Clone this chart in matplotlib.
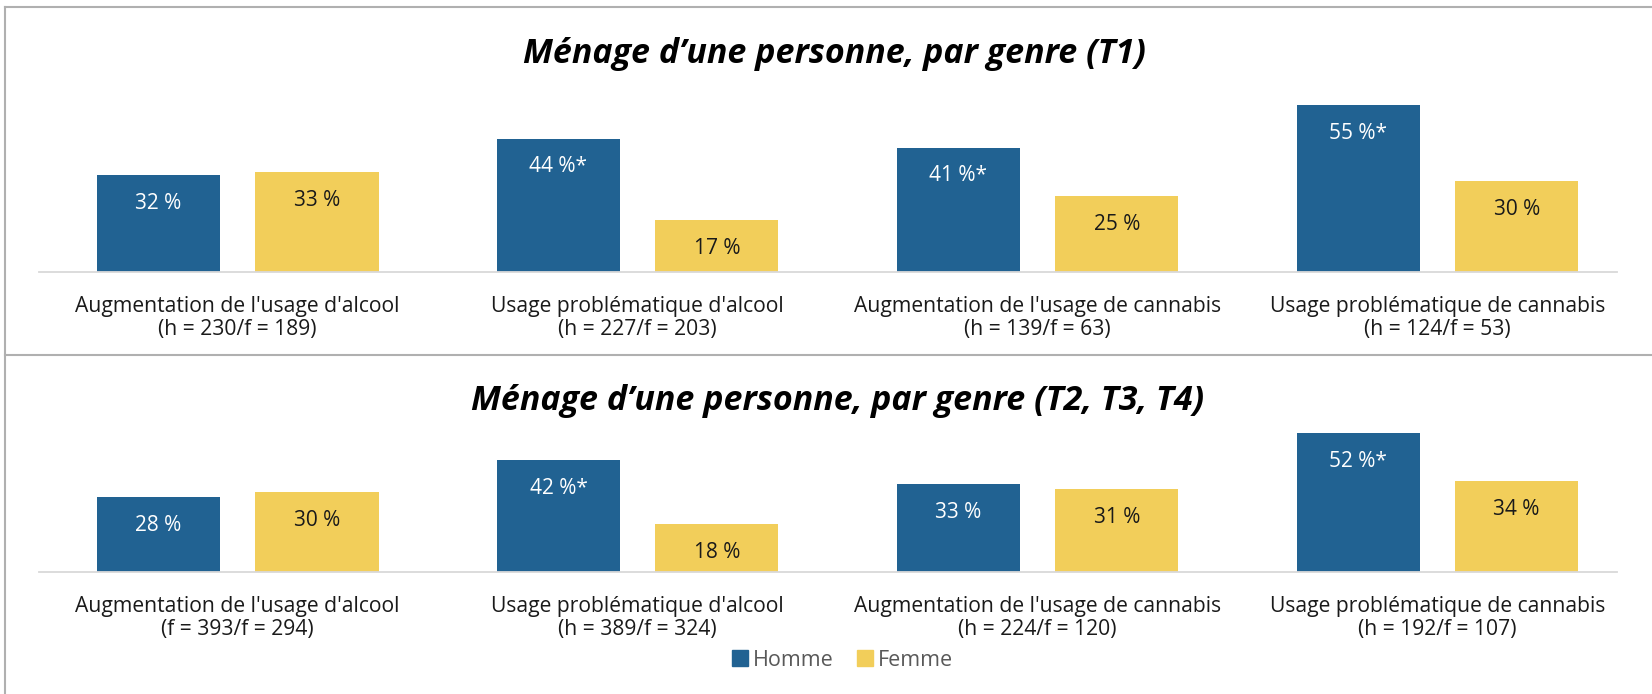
import matplotlib.pyplot as plt
import numpy as np
from matplotlib.lines import Line2D
from matplotlib.patches import Patch

plt.rcParams['font.family'] = ['Open Sans', 'DejaVu Sans']

# data
categories = ["Augmentation de l'usage d'alcool", "Usage problématique d'alcool",
              "Augmentation de l'usage de cannabis", "Usage problématique de cannabis"]

t1_homme = [32, 44, 41, 55]
t1_femme = [33, 17, 25, 30]
t1_homme_lbl = ['32 %', '44 %*', '41 %*', '55 %*']
t1_femme_lbl = ['33 %', '17 %', '25 %', '30 %']
t1_n = ['(h = 230/f = 189)', '(h = 227/f = 203)', '(h = 139/f = 63)', '(h = 124/f = 53)']

t234_homme = [28, 42, 33, 52]
t234_femme = [30, 18, 31, 34]
t234_homme_lbl = ['28 %', '42 %*', '33 %', '52 %*']
t234_femme_lbl = ['30 %', '18 %', '31 %', '34 %']
t234_n = ['(f = 393/f = 294)', '(h = 389/f = 324)', '(h = 224/f = 120)', '(h = 192/f = 107)']

BLUE = '#216292'
YELLOW = '#F2CE5A'

W, H = 1652, 694
fig = plt.figure(figsize=(W / 100, H / 100), dpi=100)


def panel(bottom_px, scale, homme, femme, hl, fl, ns):
    # bottom_px: baseline distance from top of image, scale: px per %
    top = 60
    ax = fig.add_axes([39 / W, 1 - bottom_px / H, (1617 - 39) / W, top * scale / H])
    x = np.arange(len(categories))
    bw = 0.308
    off = 0.198
    b1 = ax.bar(x - off, homme, bw, color=BLUE)
    b2 = ax.bar(x + off, femme, bw, color=YELLOW)
    pad = 28 / scale  # inside end offset in data units
    for xi, v, t in zip(x, homme, hl):
        ax.text(xi - off, v - pad, t, ha='center', va='center', color='white', fontsize=15)
    for xi, v, t in zip(x, femme, fl):
        ax.text(xi + off, v - pad, t, ha='center', va='center', color='#1a1a1a', fontsize=15)
    ax.set_xlim(-0.497, 3.449)
    ax.set_ylim(0, top)
    for s in ['top', 'right', 'left']:
        ax.spines[s].set_visible(False)
    ax.spines['bottom'].set_color('#d9d9d9')
    ax.spines['bottom'].set_linewidth(1.3)
    ax.set_yticks([])
    ax.set_xticks(x)
    ax.set_xticklabels([c + '\n' + n for c, n in zip(categories, ns)],
                       fontsize=15.2, color='#1a1a1a', linespacing=1.15)
    ax.tick_params(axis='x', length=0, pad=17)
    return b1, b2


b1, b2 = panel(272, 3.03, t1_homme, t1_femme, t1_homme_lbl, t1_femme_lbl, t1_n)
panel(572, 2.665, t234_homme, t234_femme, t234_homme_lbl, t234_femme_lbl, t234_n)

fig.text(0.505, 1 - 54 / H, 'Ménage d’une personne, par genre (T1)', ha='center', va='center',
         fontsize=24.5, fontweight='bold', fontstyle='italic')
fig.text(0.507, 1 - 401 / H, 'Ménage d’une personne, par genre (T2, T3, T4)', ha='center', va='center',
         fontsize=24.5, fontweight='bold', fontstyle='italic')

# frame lines
gray = '#b0b0b0'
fig.add_artist(Line2D([5 / W, 1], [1 - 7 / H, 1 - 7 / H], color=gray, lw=1.5))
fig.add_artist(Line2D([5 / W, 1], [1 - 355 / H, 1 - 355 / H], color=gray, lw=1.5))
fig.add_artist(Line2D([5 / W, 5 / W], [0, 1 - 7 / H], color=gray, lw=1.5))

handles = [Patch(color=BLUE, label='Homme'), Patch(color=YELLOW, label='Femme')]
leg = fig.legend(handles=handles, loc='center', bbox_to_anchor=(0.51, 1 - 660 / H), ncol=2,
                 frameon=False, fontsize=15.5, handlelength=0.75, handleheight=0.75,
                 handletextpad=0.2, columnspacing=1.1, labelcolor='#595959')

fig.savefig('out.png', dpi=100)
